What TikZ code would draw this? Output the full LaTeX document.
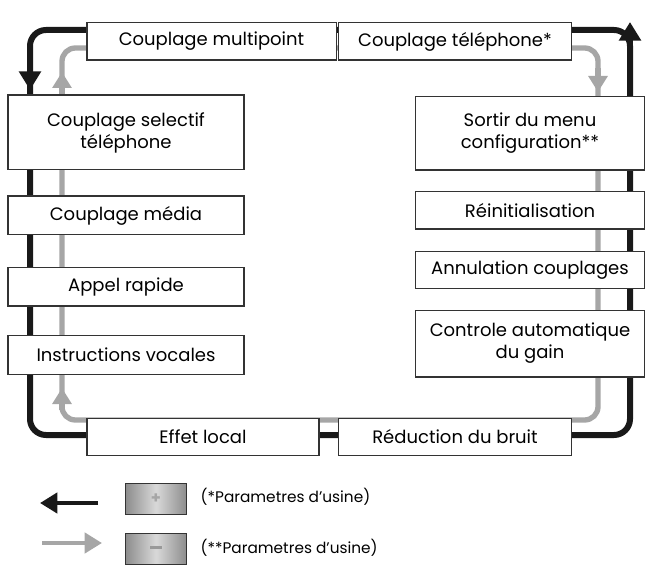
\documentclass[tikz,border=0pt]{standalone}
\usepackage{fontspec}
\setmainfont{Poppins}
\usetikzlibrary{arrows.meta}
\begin{document}
\begin{tikzpicture}[x=0.75pt,y=-0.75pt,
  box/.style={draw=black!80,line width=1pt,fill=white,align=center,font=\fontsize{13.5}{16.5}\selectfont,inner sep=0pt},
  blk/.style={line width=4.5pt,black!90,rounded corners=12pt},
  gry/.style={line width=4pt,black!35,rounded corners=10pt},
  bh/.style={-{Triangle[length=14pt,width=16pt]},black!90,line width=4.5pt},
  gh/.style={-{Triangle[length=12pt,width=14pt]},black!35,line width=4pt},
  lbl/.style={font=\fontsize{11.5}{13}\selectfont,anchor=west},
  key/.style={draw=black!80,line width=1pt,minimum width=46pt,minimum height=23pt,inner sep=0pt,left color=black!45,right color=black!45,middle color=black!15}]
\useasboundingbox (0,0) rectangle (656,570);
\draw[blk] (30,90) -- (30,30) -- (630,30) -- (630,435) -- (30,435) -- cycle;
\draw[gry] (62,80) -- (62,48) -- (598,48) -- (598,420) -- (62,420) -- cycle;
\draw[bh] (30,60) -- (30,90);
\draw[bh] (630,60) -- (630,22);
\draw[bh] (630,360) -- (630,335);
\draw[gh] (62,95) -- (62,72);
\draw[gh] (62,410) -- (62,388);
\draw[gh] (598,68) -- (598,92);
\node[box,minimum width=187pt,minimum height=28pt] (mp) at (211.5,41.5) {Couplage multipoint};
\node[box,minimum width=175pt,minimum height=28pt] (ct) at (455,41.5) {Couplage téléphone*};
\node[box,minimum width=177pt,minimum height=56pt] (cs) at (126,132.5) {Couplage selectif\\téléphone};
\node[box,minimum width=177pt,minimum height=29pt] (cm) at (126,215.5) {Couplage média};
\node[box,minimum width=177pt,minimum height=29pt] (ar) at (126,286.5) {Appel rapide};
\node[box,minimum width=177pt,minimum height=29pt] (iv) at (126,355) {Instructions vocales};
\node[box,minimum width=174pt,minimum height=28pt] (el) at (203,437) {Effet local};
\node[box,minimum width=175pt,minimum height=28pt] (rb) at (455,437) {Réduction du bruit};
\node[box,minimum width=172pt,minimum height=55pt] (sm) at (530,133.5) {Sortir du menu\\configuration**};
\node[box,minimum width=172pt,minimum height=28pt] (re) at (530,210.5) {Réinitialisation};
\node[box,minimum width=172pt,minimum height=28pt] (ac) at (530,270) {Annulation couplages};
\node[box,minimum width=172pt,minimum height=50pt] (ca) at (530,343.5) {Controle automatique\\du gain};
\coordinate (a1s) at (98,503); \coordinate (a1e) at (40,503);
\draw[-{Triangle[length=13pt,width=15pt]},black!90,line width=3.5pt] (a1s) -- (a1e);
\coordinate (a2s) at (42,543); \coordinate (a2e) at (102,543);
\draw[-{Triangle[length=13pt,width=15pt]},black!35,line width=3.5pt] (a2s) -- (a2e);
\node[key] (kp) at (156,499) {\textcolor{black!35}{\bfseries\large +}};
\node[key] (km) at (156,549) {\textcolor{black!40}{\rule[2pt]{9pt}{2.5pt}}};
\node[lbl] (t1) at (196,497) {(*Parametres d’usine)};
\node[lbl] (t2) at (196,548) {(**Parametres d’usine)};
\end{tikzpicture}
\end{document}
